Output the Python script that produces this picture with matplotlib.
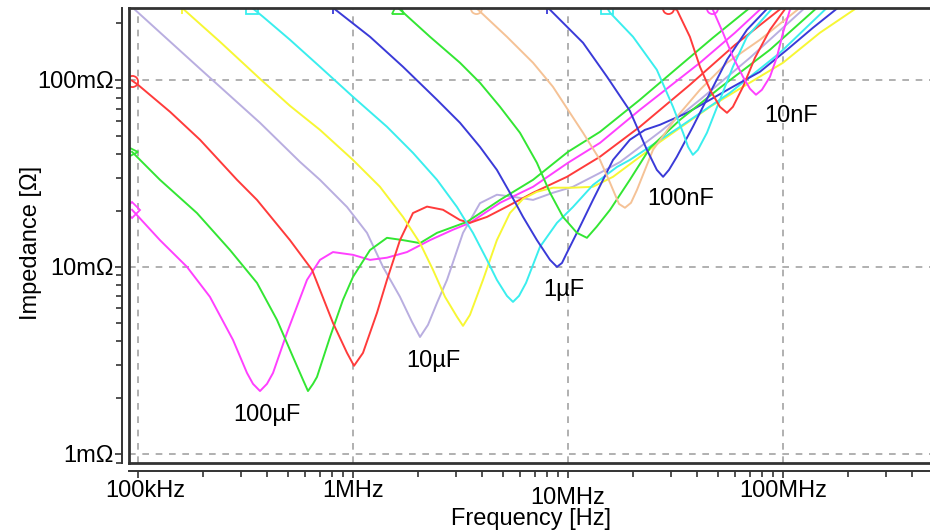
import matplotlib
matplotlib.use("Agg")
import matplotlib.pyplot as plt
from matplotlib.ticker import FixedLocator, LogLocator, NullFormatter
from matplotlib.transforms import blended_transform_factory

plt.rcParams['font.family'] = ['Liberation Sans', 'DejaVu Sans']

# frequency in MHz, impedance in mOhm
# 100uF group
f_mag1 = [0.0938, 0.1265, 0.169, 0.216, 0.2766, 0.3214, 0.3427, 0.3694, 0.398, 0.4246, 0.493, 0.611, 0.702,
          0.807, 1.0, 1.2, 1.439, 1.783, 2.281, 2.918, 3.50, 4.83, 6.88, 10.0, 14.09, 21.6, 41.1, 59.8, 79.8]
z_mag1 = [20.2, 13.9, 10.0, 6.92, 4.07, 2.71, 2.37, 2.17, 2.37, 2.71, 4.44, 8.52, 10.9,
          12.0, 11.6, 10.9, 11.2, 12.0, 13.9, 15.8, 17.2, 22.0, 26.8, 36.0, 46.0, 69.1, 123.3, 178.4, 242.7]

f_grn1 = [0.0938, 0.1078, 0.1265, 0.188, 0.268, 0.3577, 0.443, 0.526, 0.5855, 0.6175, 0.6516, 0.68, 0.782,
          0.898, 1.0, 1.2, 1.439, 1.708, 2.05, 2.459, 3.39, 4.83, 6.88, 10.0, 14.09, 21.6, 31.5, 47.2, 70.2]
z_grn1 = [41.2, 35.1, 29.2, 19.4, 12.3, 8.21, 5.21, 3.30, 2.49, 2.17, 2.37, 2.58, 4.22,
          6.66, 8.84, 12.3, 14.3, 13.9, 13.4, 15.2, 17.4, 22.8, 29.2, 41.2, 52.7, 78.2, 113.1, 167.7, 242.7]

f_red1 = [0.0938, 0.1, 0.141, 0.1943, 0.2887, 0.3577, 0.509, 0.645, 0.807, 0.938, 1.011, 1.113, 1.293,
          1.439, 1.654, 1.901, 2.21, 2.622, 3.146, 3.50, 4.20, 5.20, 6.88, 9.89, 14.09, 21.6, 36.9, 59.8, 98.9]
z_red1 = [99, 94.0, 67.4, 47.8, 29.2, 22.8, 13.9, 9.64, 5.02, 3.47, 2.96, 3.47, 5.68,
          8.52, 13.9, 19.4, 21.0, 20.2, 17.8, 17.2, 18.5, 21.0, 24.9, 30.3, 38.8, 56.1, 94.0, 153.6, 242.7]

# 10uF group
f_lav = [0.0968, 0.1943, 0.3694, 0.567, 0.702, 0.938, 1.162, 1.379, 1.654, 1.881, 2.05, 2.233, 2.459,
         2.737, 3.249, 3.896, 4.67, 5.55, 6.88, 8.51, 10.55, 14.09, 17.5, 26.8, 41.1, 70.2, 126.6]
z_lav = [236.8, 114.5, 58.9, 36.4, 29.2, 20.9, 15.2, 10.0, 6.92, 5.08, 4.22, 4.90, 6.42,
         8.52, 15.2, 21.9, 24.3, 23.7, 22.8, 24.9, 26.8, 31.8, 36.4, 52.7, 78.2, 131.1, 242.7]

f_yel = [0.160, 0.2406, 0.3694, 0.509, 0.702, 1.0, 1.335, 1.708, 2.05, 2.356, 2.679, 3.046, 3.249, 3.50,
         4.025, 4.67, 5.37, 6.18, 7.17, 8.51, 10.55, 13.07, 16.2, 26.8, 45.8, 65.2, 100, 148.6, 220.8]
z_yel = [242.7, 159.7, 101.2, 72.6, 54.0, 37.3, 26.8, 18.5, 13.4, 9.64, 6.92, 5.41, 4.84, 5.54,
         8.52, 13.9, 19.4, 23.1, 25.2, 26.5, 26.5, 26.8, 30.3, 46.6, 71.7, 91.8, 123.3, 178.4, 242.7]

f_cyn1 = [0.339, 0.3814, 0.509, 0.702, 1.0, 1.439, 1.901, 2.459, 3.046, 3.614, 4.20, 4.67, 5.20, 5.55,
          5.92, 6.38, 7.41, 8.89, 10.55, 13.07, 16.9, 19.4, 33.2, 56.7, 96.8, 160.2]
z_cyn1 = [242.7, 217.3, 163.7, 117.4, 81.1, 56.1, 40.7, 29.2, 20.9, 15.2, 10.9, 8.52, 7.00, 6.50,
          7.00, 8.21, 12.8, 17.2, 20.9, 27.4, 34.2, 37.3, 56.1, 85.2, 139.4, 242.7]

# 1uF group
f_blu1 = [0.807, 1.2, 1.708, 2.459, 3.146, 3.896, 4.67, 5.37, 6.18, 7.17, 8.25, 8.89, 9.38, 9.89, 11.37,
          13.07, 16.2, 19.4, 22.8, 26.8, 35.8, 45.8, 58.5, 78.2, 104.4, 137.9, 180.3]
z_blu1 = [242.7, 169.8, 117.4, 78.2, 58.9, 43.8, 33.0, 24.9, 18.5, 13.9, 10.9, 10.0, 10.5, 11.9, 16.4,
          22.8, 37.3, 47.8, 54.0, 57.5, 66.6, 78.2, 91.8, 110.4, 144.7, 189.7, 242.7]

f_grn2 = [1.619, 2.281, 3.146, 3.896, 4.83, 5.98, 7.17, 8.25, 9.48, 11.01, 12.25, 13.6, 15.7, 19.4, 24.1,
          33.2, 50.9, 87.0, 143.9]
z_grn2 = [242.7, 169.8, 123.3, 96.4, 71.7, 52.1, 36.0, 24.9, 18.5, 15.2, 14.3, 16.4, 20.2, 29.2, 43.3,
          61.1, 90.6, 144.7, 242.7]

f_tan = [3.733, 5.20, 6.88, 8.51, 10.0, 11.75, 14.09, 15.7, 17.27, 18.41, 19.64, 20.94, 24.85, 32.1,
         41.1, 54.9, 78.2, 120]
z_tan = [242.7, 169.8, 123.3, 91.8, 69.1, 52.1, 37.3, 28.1, 21.7, 20.7, 22.0, 25.8, 42.2, 63.4,
         88.4, 123.3, 163.7, 242.7]

# 100nF / 10nF group
f_blu2 = [7.99, 8.25, 11.75, 15.2, 19.4, 23.3, 25.9, 27.7, 29.5, 32.1, 38.1, 45.8, 54.9, 68.0, 85.2]
z_blu2 = [242.7, 236.8, 157.7, 103.7, 68.3, 42.2, 33.0, 30.3, 33.0, 38.8, 56.1, 85.2, 127.9, 185, 242.7]

f_cyn2 = [15.2, 15.7, 20.07, 25.9, 30.8, 34.3, 36.2, 38.1, 40.2, 44.3, 50.9, 58.5, 68.0, 89.8]
z_cyn2 = [242.7, 228.2, 169.8, 113.1, 71.7, 52.1, 43.8, 39.7, 42.2, 52.1, 78.2, 117.4, 169.8, 242.7]

f_red2 = [29.2, 32.1, 36.9, 41.1, 45.8, 50.9, 54.9, 58.5, 65.2, 74.1, 87.0, 103.3]
z_red2 = [242.7, 236.8, 169.8, 117.4, 88.4, 71.7, 66.6, 71.7, 91.8, 131.1, 185, 242.7]

f_mag2 = [46.7, 47.2, 52.6, 58.5, 65.2, 70.2, 74.9, 79.8, 87.0, 93.8, 100, 107.8, 110.1]
z_mag2 = [242.7, 236.8, 178.4, 132.7, 103.7, 89.6, 83.2, 88.4, 103.7, 132.7, 178.4, 236.8, 251.8]

cap_labels = ['100µF', '10µF', '1µF', '100nF', '10nF']
cap_label_f = [0.40, 2.36, 9.58, 33.5, 109]
cap_label_z = [1.62, 3.14, 7.53, 23.1, 64.2]

x_ticks = [0.1, 1, 10, 100]
x_tick_labels = ['100kHz', '1MHz', '10MHz', '100MHz']
y_ticks = [1, 10, 100]
y_tick_labels = ['1mΩ', '10mΩ', '100mΩ']

MAG, GRN, RED = '#ff40ff', '#33e633', '#ff3b3b'
LAV, YEL, CYN = '#b9aee0', '#f7f734', '#3aeeee'
BLU, TAN = '#3a3ad8', '#f5c296'

curves = [
    (f_lav, z_lav, LAV, None),
    (f_mag1, z_mag1, MAG, 'D'),
    (f_grn1, z_grn1, GRN, '>'),
    (f_red1, z_red1, RED, 'o'),
    (f_yel, z_yel, YEL, '1'),
    (f_cyn1, z_cyn1, CYN, 's'),
    (f_blu1, z_blu1, BLU, '1'),
    (f_grn2, z_grn2, GRN, '^'),
    (f_tan, z_tan, TAN, 'o'),
    (f_blu2, z_blu2, BLU, '1'),
    (f_cyn2, z_cyn2, CYN, 's'),
    (f_red2, z_red2, RED, 'o'),
    (f_mag2, z_mag2, MAG, 'o'),
]

fig = plt.figure(figsize=(9.3, 5.32), dpi=100)
ax = fig.add_axes([0.1387, 0.1297, 0.8613, 0.8553])
ax.set_xscale('log')
ax.set_yscale('log')
ax.set_xlim(0.0908, 483)
ax.set_ylim(0.895, 242)

for f, z, c, m in curves:
    ax.plot(f, z, color=c, lw=1.4, solid_joinstyle='round')
    if m is not None:
        ax.plot(f[0], z[0], marker=m, ms=8, mfc='none', mec=c, mew=1.3, ls='none')

ax.grid(which='major', linestyle=(0, (4, 4)), color='#a3a3a3', linewidth=1.2)
ax.set_axisbelow(True)

ax.spines['right'].set_visible(False)
ax.spines['top'].set_color('#333333')
ax.spines['top'].set_linewidth(2)
ax.spines['left'].set_position(('outward', 5))
ax.spines['bottom'].set_position(('outward', 6))
for sp in ['left', 'bottom']:
    ax.spines[sp].set_color('#333333')
    ax.spines[sp].set_linewidth(1.4)
# inner box lines
ax.plot([0, 0], [0, 1], transform=ax.transAxes, color='#333333', lw=2, clip_on=False)
ax.plot([0, 1], [0, 0], transform=ax.transAxes, color='#333333', lw=2, clip_on=False)

ax.xaxis.set_major_locator(FixedLocator(x_ticks))
ax.xaxis.set_minor_locator(LogLocator(base=10, subs=range(2, 10)))
ax.xaxis.set_major_formatter(NullFormatter())
ax.xaxis.set_minor_formatter(NullFormatter())
ax.yaxis.set_major_locator(FixedLocator(y_ticks))
ax.yaxis.set_minor_locator(LogLocator(base=10, subs=range(2, 10)))
ax.yaxis.set_minor_formatter(NullFormatter())
ax.set_yticklabels(y_tick_labels)
ax.tick_params(which='both', direction='out', color='#333333', width=1.2)
ax.tick_params(which='major', length=5, labelsize=17, pad=1)
ax.tick_params(which='minor', length=4)

trans = blended_transform_factory(ax.transData, ax.transAxes)
x_label_pos = [0.108, 1, 10, 100]
for xt, lab in zip(x_label_pos, x_tick_labels):
    yy = -0.076 if lab == '10MHz' else -0.062
    ax.text(xt, yy, lab, transform=trans, ha='center', va='center', fontsize=17)

for lab, lf, lz in zip(cap_labels, cap_label_f, cap_label_z):
    ax.text(lf, lz, lab, ha='center', va='center', fontsize=17)

fig.text(531 / 930, 1 - 519 / 532, 'Frequency [Hz]', ha='center', va='center', fontsize=17)
fig.text(31 / 930, 1 - 243 / 532, 'Impedance [Ω]', ha='center', va='center', fontsize=17, rotation=90)

fig.savefig('out.png', dpi=100)
